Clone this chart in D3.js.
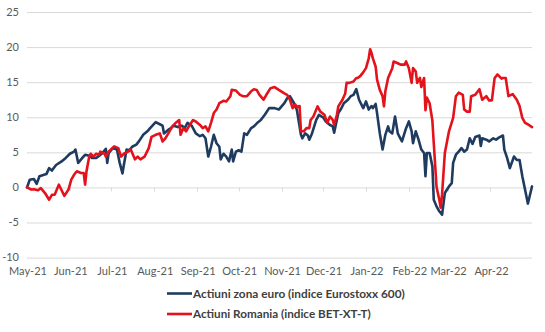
<!DOCTYPE html>
<html><head><meta charset="utf-8">
<script src="https://cdn.jsdelivr.net/npm/d3@7"></script>
<style>
body{margin:0;background:#fff;}
svg{display:block;font-family:Lato,"Open Sans",sans-serif;}
</style></head><body>
<svg id="c" width="545" height="332"></svg>
<script>
const yTicks = [-10,-5,0,5,10,15,20,25];
const seriesNames = ["Actiuni zona euro (indice Eurostoxx 600)","Actiuni Romania (indice BET-XT-T)"];
const seriesColors = ["#1f3b60","#e3121b"];

const euroDates = ["2021-05-01","2021-05-03","2021-05-06","2021-05-08","2021-05-10","2021-05-15","2021-05-17","2021-05-19","2021-05-22","2021-05-26","2021-05-29","2021-06-01","2021-06-04","2021-06-05","2021-06-07","2021-06-10","2021-06-12","2021-06-15","2021-06-17","2021-06-20","2021-06-22","2021-06-24","2021-06-27","2021-06-28","2021-06-29","2021-07-02","2021-07-05","2021-07-07","2021-07-09","2021-07-10","2021-07-12","2021-07-14","2021-07-16","2021-07-19","2021-07-21","2021-07-24","2021-07-27","2021-07-29","2021-08-02","2021-08-05","2021-08-07","2021-08-08","2021-08-11","2021-08-13","2021-08-15","2021-08-18","2021-08-21","2021-08-23","2021-08-25","2021-08-28","2021-08-31","2021-09-03","2021-09-05","2021-09-07","2021-09-09","2021-09-11","2021-09-13","2021-09-15","2021-09-17","2021-09-18","2021-09-20","2021-09-22","2021-09-24","2021-09-26","2021-09-27","2021-09-29","2021-10-01","2021-10-03","2021-10-05","2021-10-07","2021-10-10","2021-10-12","2021-10-15","2021-10-17","2021-10-20","2021-10-23","2021-10-27","2021-10-30","2021-11-03","2021-11-05","2021-11-07","2021-11-10","2021-11-12","2021-11-15","2021-11-16","2021-11-18","2021-11-20","2021-11-21","2021-11-23","2021-11-26","2021-11-28","2021-12-01","2021-12-03","2021-12-06","2021-12-08","2021-12-09","2021-12-12","2021-12-14","2021-12-16","2021-12-19","2021-12-21","2021-12-23","2021-12-25","2021-12-27","2021-12-30","2022-01-01","2022-01-03","2022-01-05","2022-01-06","2022-01-08","2022-01-09","2022-01-11","2022-01-13","2022-01-15","2022-01-17","2022-01-18","2022-01-20","2022-01-22","2022-01-24","2022-01-25","2022-01-27","2022-01-30","2022-02-01","2022-02-03","2022-02-04","2022-02-06","2022-02-08","2022-02-10","2022-02-12","2022-02-13","2022-02-14","2022-02-16","2022-02-18","2022-02-19","2022-02-21","2022-02-23","2022-02-25","2022-02-27","2022-03-02","2022-03-04","2022-03-05","2022-03-07","2022-03-09","2022-03-11","2022-03-13","2022-03-15","2022-03-17","2022-03-19","2022-03-21","2022-03-24","2022-03-25","2022-03-26","2022-03-29","2022-03-31","2022-04-03","2022-04-05","2022-04-07","2022-04-10","2022-04-11","2022-04-13","2022-04-15","2022-04-18","2022-04-20","2022-04-22","2022-04-24","2022-04-27","2022-04-28","2022-04-29","2022-05-01"];
const euroValues = [0,1.1,1.2,0.5,1.6,1.9,2.75,2.4,3.2,3.7,4.2,4.8,5.1,5.4,3.5,4.2,4.65,4.5,4.2,4.2,4.5,4.8,5.5,3.5,4.9,5.6,5.4,3.5,2.0,3.2,5.4,5.3,5.8,6.1,6.6,7.5,8.0,8.45,9.3,9.0,8.8,7.7,8.2,8.45,8.8,8.6,8.8,8.45,9.2,8.8,7.7,7.3,7.5,7.0,4.4,5.8,7.5,6.3,5.8,4.0,4.8,4.4,3.7,5.4,3.7,5.1,5.3,5.1,7.7,7.5,8.45,8.7,9.3,9.6,10.4,11.3,11.3,11.1,12.0,12.7,13.0,12.0,11.1,7.5,7.0,7.7,7.4,6.8,7.7,9.6,10.35,10.0,9.4,8.9,8.7,7.8,10.6,11.2,12.0,12.5,13.0,13.2,14.0,12.5,11.3,12.25,11.1,11.6,11.3,11.9,10.6,7.7,5.4,7.5,8.7,8.0,7.7,10.1,7.7,7.3,6.55,8.45,9.4,8.0,6.3,8.0,6.8,5.4,4.9,1.6,4.9,4.9,3.0,-1.75,-2.7,-3.4,-3.9,-0.8,0.14,0.6,3.5,4.66,5.1,5.6,5.1,5.4,7.0,6.2,7.2,7.4,5.9,7.0,6.8,6.55,7.0,6.8,7.1,7.4,5.4,4.2,2.75,4.4,3.9,3.9,1.6,-1.3,-2.3,-1.5,0.14];

const roDates = ["2021-05-01","2021-05-04","2021-05-06","2021-05-09","2021-05-11","2021-05-14","2021-05-17","2021-05-19","2021-05-21","2021-05-24","2021-05-26","2021-05-28","2021-05-31","2021-06-02","2021-06-04","2021-06-06","2021-06-09","2021-06-11","2021-06-12","2021-06-13","2021-06-15","2021-06-16","2021-06-18","2021-06-20","2021-06-22","2021-06-23","2021-06-26","2021-06-27","2021-06-29","2021-07-03","2021-07-06","2021-07-08","2021-07-10","2021-07-13","2021-07-15","2021-07-18","2021-07-20","2021-07-22","2021-07-25","2021-07-28","2021-07-30","2021-08-02","2021-08-05","2021-08-07","2021-08-09","2021-08-12","2021-08-14","2021-08-17","2021-08-19","2021-08-20","2021-08-22","2021-08-24","2021-08-26","2021-08-29","2021-08-31","2021-09-03","2021-09-05","2021-09-07","2021-09-09","2021-09-11","2021-09-13","2021-09-15","2021-09-17","2021-09-20","2021-09-22","2021-09-25","2021-09-26","2021-09-29","2021-10-02","2021-10-04","2021-10-07","2021-10-10","2021-10-12","2021-10-14","2021-10-16","2021-10-19","2021-10-21","2021-10-24","2021-10-27","2021-10-30","2021-11-03","2021-11-05","2021-11-07","2021-11-09","2021-11-11","2021-11-12","2021-11-14","2021-11-15","2021-11-17","2021-11-19","2021-11-21","2021-11-22","2021-11-24","2021-11-27","2021-11-29","2021-12-02","2021-12-04","2021-12-06","2021-12-08","2021-12-09","2021-12-11","2021-12-12","2021-12-15","2021-12-17","2021-12-18","2021-12-20","2021-12-23","2021-12-25","2021-12-26","2021-12-28","2021-12-30","2022-01-01","2022-01-03","2022-01-04","2022-01-05","2022-01-06","2022-01-08","2022-01-09","2022-01-11","2022-01-13","2022-01-14","2022-01-15","2022-01-17","2022-01-20","2022-01-21","2022-01-24","2022-01-26","2022-01-29","2022-01-30","2022-02-01","2022-02-03","2022-02-04","2022-02-06","2022-02-07","2022-02-09","2022-02-10","2022-02-12","2022-02-13","2022-02-14","2022-02-16","2022-02-18","2022-02-19","2022-02-21","2022-02-23","2022-02-24","2022-02-25","2022-02-27","2022-03-02","2022-03-05","2022-03-07","2022-03-09","2022-03-12","2022-03-13","2022-03-15","2022-03-17","2022-03-18","2022-03-21","2022-03-24","2022-03-26","2022-03-29","2022-03-31","2022-04-02","2022-04-04","2022-04-06","2022-04-09","2022-04-10","2022-04-12","2022-04-14","2022-04-17","2022-04-20","2022-04-22","2022-04-24","2022-04-26","2022-04-28","2022-05-01"];
const roValues = [0,-0.3,-0.25,-0.4,-0.1,-0.8,-1.75,-1.05,-1.05,0.4,-0.4,-1.2,-0.3,1.1,1.8,2.3,2.05,2.05,0.4,2.3,4.4,4.8,4.4,4.8,4.65,5.1,4.8,4.4,5.1,5.85,5.6,4.4,4.8,5.1,5.4,4.0,4.4,4.0,4.4,5.6,7.2,7.5,7.7,6.55,7.0,8.0,8.7,9.3,9.6,7.5,8.45,8.0,8.7,9.6,9.4,8.9,8.45,8.7,8.0,9.2,10.6,11.1,12.0,12.35,12.25,13.0,13.9,13.8,13.2,13.0,13.0,13.7,14.0,13.9,13.2,12.5,13.2,14.15,14.3,13.9,13.4,13.2,12.5,11.3,11.8,11.45,11.6,8.0,8.0,8.45,8.45,9.6,10.1,11.55,10.8,10.35,9.2,10.1,9.6,8.9,10.35,11.55,12.5,13.4,14.9,14.9,15.1,15.6,15.6,15.9,16.4,17.0,18.4,19.7,19.15,18.4,17.2,15.35,13.9,13.0,11.55,13.7,15.6,17.0,17.95,17.7,17.5,17.5,17.95,17.0,14.9,17.0,16.5,14.9,15.6,14.3,15.6,11.0,12.8,12.0,9.5,6.3,0.1,-1.75,-2.9,-1.0,4.9,8.0,9.9,13.0,13.5,13.2,11.1,10.8,10.8,13.0,13.2,14.0,12.5,13.0,12.4,12.4,15.6,16.1,15.5,15.6,15.6,13.0,13.3,12.5,11.6,9.9,9.2,9.0,8.6];

const parse = d3.timeParse("%Y-%m-%d");
const svg = d3.select("#c");
const x = d3.scaleTime().domain([parse("2021-05-01"), parse("2022-05-01")]).range([27, 532]);
const y = d3.scaleLinear().domain([-10, 25]).range([257.6, 12]);

// gridlines
svg.append("g").selectAll("line").data(yTicks).join("line")
  .attr("x1", 27).attr("x2", 532)
  .attr("y1", d => y(d) + 0.5).attr("y2", d => y(d) + 0.5)
  .attr("stroke", "#d9d9d9").attr("stroke-width", 1);

// y labels
svg.append("g").selectAll("text").data(yTicks).join("text")
  .attr("x", 19).attr("y", d => y(d)).attr("dy", "0.35em")
  .attr("text-anchor", "end").attr("fill", "#595959").attr("font-size", 11)
  .text(d => d);

// x axis: month ticks on zero line, labels at bottom
const months = d3.timeMonth.range(parse("2021-05-01"), parse("2022-05-01"));
const fmt = d3.timeFormat("%b-%y");
svg.append("g").selectAll("line").data(months.slice(1)).join("line")
  .attr("x1", d => Math.round(x(d)) + 0.5).attr("x2", d => Math.round(x(d)) + 0.5)
  .attr("y1", y(0)).attr("y2", y(0) + 4)
  .attr("stroke", "#d9d9d9");
svg.append("g").selectAll("text").data(months).join("text")
  .attr("x", d => x(d) + 1).attr("y", 271).attr("dy", "0.35em")
  .attr("text-anchor", "middle").attr("fill", "#595959").attr("font-size", 11)
  .text(d => fmt(d));

// lines
const line = d3.line().x(d => x(d[0])).y(d => y(d[1]));
const euro = euroDates.map((d, i) => [parse(d), euroValues[i]]);
const ro = roDates.map((d, i) => [parse(d), roValues[i]]);
[[euro, seriesColors[0]], [ro, seriesColors[1]]].forEach(([data, col]) => {
  svg.append("path").datum(data).attr("d", line)
    .attr("fill", "none").attr("stroke", col).attr("stroke-width", 2.6)
    .attr("stroke-linejoin", "round").attr("stroke-linecap", "round");
});

// legend
const legY = [293.5, 314];
const legW = [212, 178];
seriesNames.forEach((name, i) => {
  svg.append("line").attr("x1", 167).attr("x2", 192)
    .attr("y1", legY[i]).attr("y2", legY[i])
    .attr("stroke", seriesColors[i]).attr("stroke-width", 2.6);
  const t = svg.append("text").attr("x", 193).attr("y", legY[i]).attr("dy", "0.35em")
    .attr("fill", "#404040").attr("font-size", 12.5).attr("font-weight", 700)
    .text(name);
  const w = t.node().getComputedTextLength();
  t.attr("font-size", 12.5 * legW[i] / w);
});
</script>
</body></html>
